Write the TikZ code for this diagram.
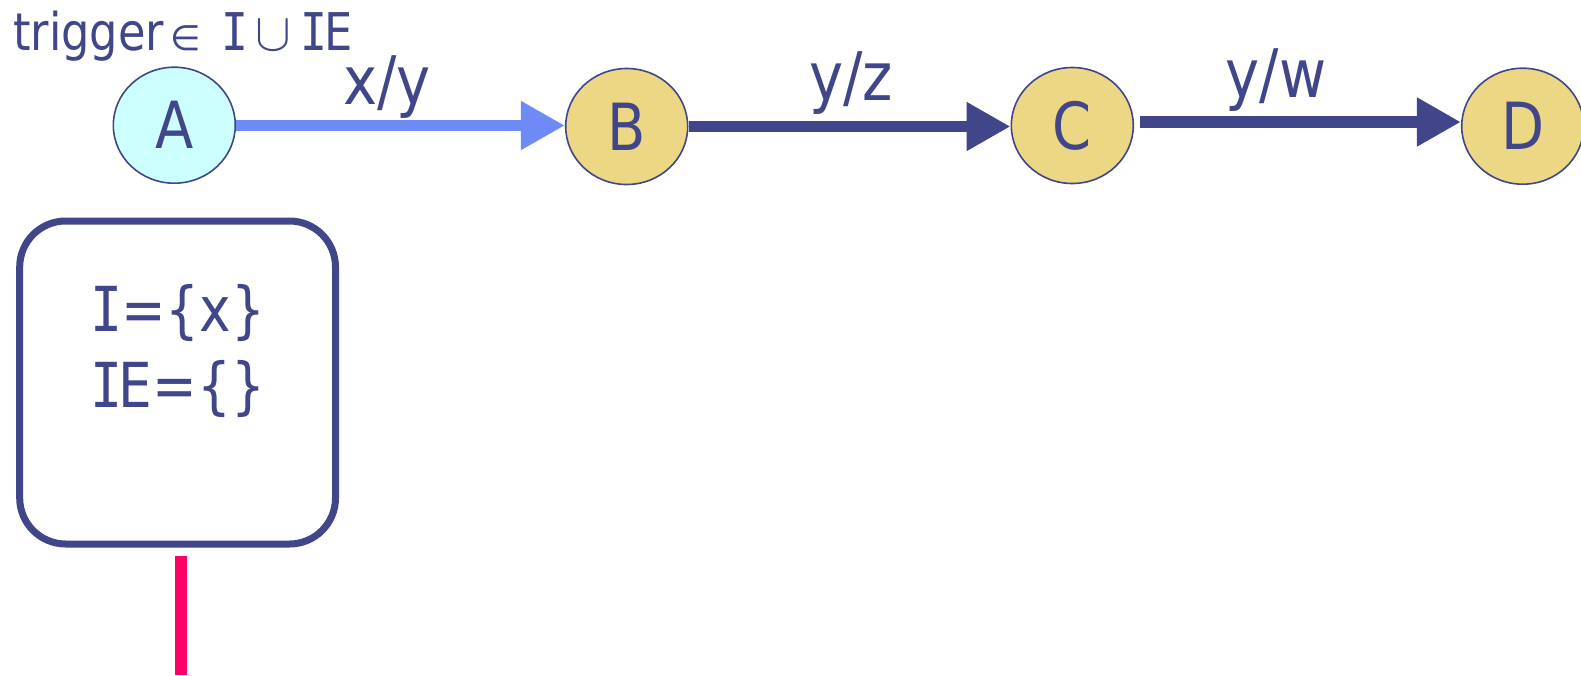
\documentclass[tikz,border=0pt]{standalone}
\usepackage{fontspec}
\setmainfont{DejaVu Sans}[FakeStretch=0.86]
\newfontfamily\ifont{DejaVu Sans Mono}[FakeStretch=0.86]
\newfontfamily\symf{DejaVu Sans}
\usetikzlibrary{shapes.geometric,arrows.meta}
\definecolor{ink}{HTML}{404689}
\definecolor{lightarrow}{HTML}{6E8BF5}
\definecolor{cyanfill}{HTML}{CCFFFF}
\definecolor{goldfill}{HTML}{EBD784}
\definecolor{pinkline}{HTML}{FF0066}
\tikzset{
  statenode/.style={ellipse, draw=ink, line width=1.6pt, inner sep=0pt,
    minimum width=122pt, minimum height=116pt, text=ink,
    font=\fontsize{65}{65}\selectfont},
  translabel/.style={anchor=base, text=ink, inner sep=0pt,
    font=\fontsize{67}{67}\selectfont},
  transarrow/.style={line width=11.5pt, draw=ink,
    -{Triangle[length=44pt,width=46pt]}},
  memtext/.style={anchor=base, text=ink, inner sep=0pt,
    font=\fontsize{62}{62}\selectfont},
}
\begin{document}
\begin{tikzpicture}[x=1pt,y=-1pt]
\useasboundingbox (0,0) rectangle (1581,675);
% trigger text
\node[anchor=base west, inner sep=0pt, text=ink, font=\fontsize{52}{52}\selectfont] (trig) at (13,50.4)
  {trigger\hspace{6pt}{\symf\fontsize{35}{35}\selectfont ∈}\hspace{21pt}{\ifont I}\hspace{7pt}\scalebox{2.15}{\fontsize{24.88}{25}\selectfont$\cup$}\hspace{9pt}{\ifont I}\hspace{-3pt}E};
% states
\node[statenode, fill=cyanfill] (A) at (174.3,125.2) {A};
\node[statenode, fill=goldfill] (B) at (626.7,126.5) {B};
\node[statenode, fill=goldfill] (C) at (1072.3,125.5) {C};
\node[statenode, fill=goldfill] (D) at (1522.7,126.2) {D};
% transitions
\draw[transarrow, draw=lightarrow] (A.east |- 0,125.5) -- (B.west |- 0,125.5);
\draw[transarrow] (B.east |- 0,126.5) -- (C.west |- 0,126.5);
\draw[transarrow, shorten <=6pt] (C.east |- 0,122) -- (D.west |- 0,122);
\node[translabel] (lxy) at (387,104) {x/y};
\node[translabel] (lyz) at (851,100) {y/z};
\node[translabel] (lyw) at (1276,97) {y/w};
% memory box
\node[draw=ink, line width=7pt, rounded corners=46pt, minimum width=315.8pt,
  minimum height=323pt, inner sep=0pt] (mem) at (177.6,382.5) {};
\node[memtext] (memI) at (178,331) {{\ifont I}\hspace{-2pt}=\{x\}};
\node[memtext] (memIE) at (178,407) {{\ifont I}\hspace{-4pt}E=\{\}};
% pink line
\coordinate (pinktop) at (180.7,556);
\coordinate (pinkbot) at (180.7,675);
\draw[pinkline, line width=12pt] (pinktop) -- (pinkbot);
\end{tikzpicture}
\end{document}
